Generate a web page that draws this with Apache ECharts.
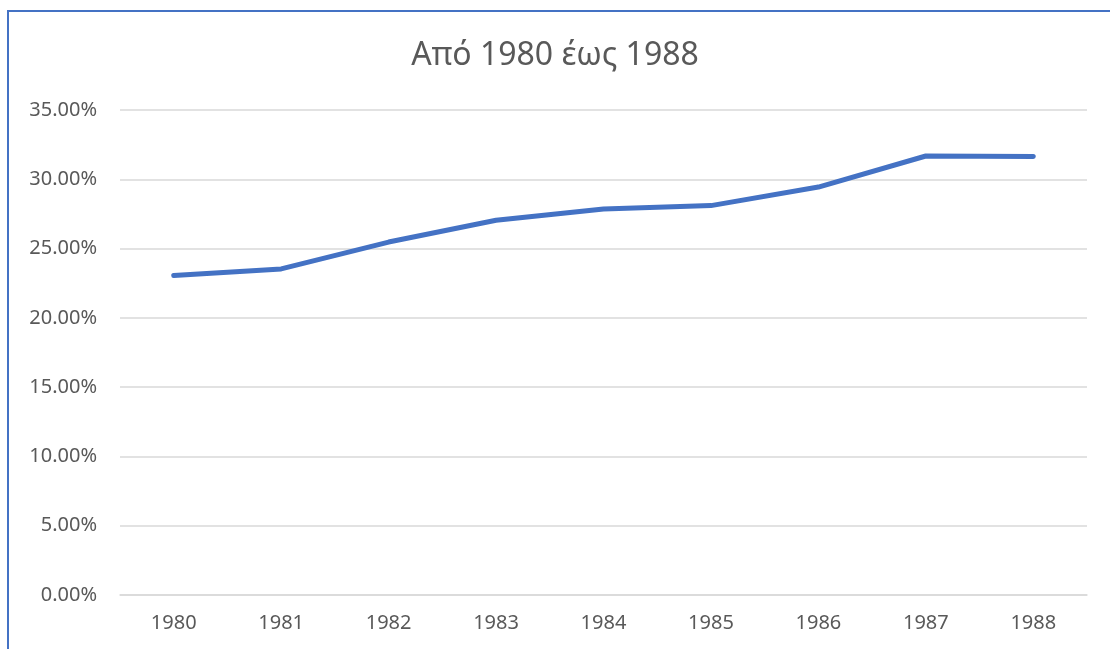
<!DOCTYPE html>
<html>
<head>
<meta charset="utf-8">
<script src="https://cdn.jsdelivr.net/npm/echarts@6/dist/echarts.min.js"></script>
<style>
	html, body {
		margin: 0;
		padding: 0;
		background: #fff;
	}
	#frame {
		position: absolute;
		left: 7px;
		top: 10px;
		width: 1110px;
		height: 660px;
		border-top: 2px solid #4472C4;
		border-left: 2px solid #4472C4;
	}
	#chart {
		position: absolute;
		left: 0;
		top: 0;
		width: 1110px;
		height: 649px;
	}
</style>
</head>
<body>
<div id="frame"></div>
<div id="chart"></div>
<script>
	const years = ['1980', '1981', '1982', '1983', '1984', '1985', '1986', '1987', '1988']
	const shares = [23.05, 23.53, 25.47, 27.04, 27.86, 28.10, 29.44, 31.68, 31.64]
	const titleText = 'Από 1980 έως 1988'

	const myChart = echarts.init(document.getElementById('chart'))
	const option = {
		animation: false,
		textStyle: {
			fontFamily: 'Noto Sans'
		},
		title: {
			text: titleText,
			left: 'center',
			top: 35,
			textStyle: {
				color: '#595959',
				fontSize: 32,
				fontWeight: 'normal',
				fontFamily: 'Noto Sans'
			}
		},
		grid: {
			left: 120,
			right: 23,
			top: 110,
			bottom: 54
		},
		xAxis: {
			type: 'category',
			data: years,
			boundaryGap: true,
			axisLine: {
				show: true,
				lineStyle: { color: '#d9d9d9', width: 1.5 }
			},
			axisTick: { show: false },
			axisLabel: {
				color: '#595959',
				fontSize: 20,
				margin: 18
			}
		},
		yAxis: {
			type: 'value',
			min: 0,
			max: 35,
			interval: 5,
			axisLine: { show: false },
			axisTick: { show: false },
			axisLabel: {
				color: '#595959',
				fontSize: 20,
				margin: 23,
				formatter: (v) => v.toFixed(2) + '%'
			},
			splitLine: {
				lineStyle: { color: '#d9d9d9', width: 1.5 }
			}
		},
		series: [{
			type: 'line',
			data: shares,
			showSymbol: false,
			lineStyle: {
				color: '#4472C4',
				width: 5,
				cap: 'round',
				join: 'round'
			}
		}]
	}
	myChart.setOption(option)
</script>
</body>
</html>
